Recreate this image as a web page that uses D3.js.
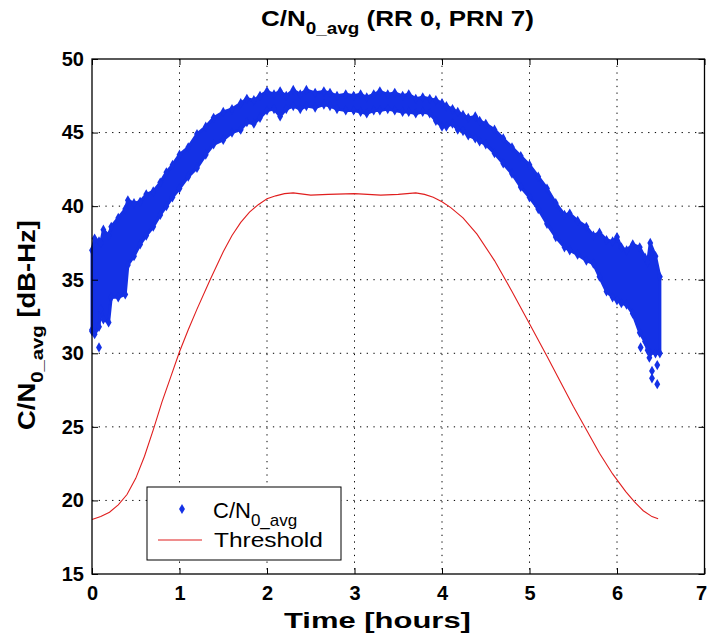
<!DOCTYPE html>
<html>
<head>
<meta charset="utf-8">
<script src="https://cdn.jsdelivr.net/npm/d3@7"></script>
<style>
  body { margin: 0; background: #ffffff; }
  text { font-family: "Liberation Sans", Arial, Helvetica, sans-serif; fill: #000; }
</style>
</head>
<body>
<div id="chart-area"></div>
<script>
// C/N0_avg scatter band + threshold

const WIDTH = 707
const HEIGHT = 636
const PLOT = { LEFT: 92, RIGHT: 704.5, TOP: 59, BOTTOM: 574 }

// blue band: time [h], lower edge, upper edge
const bandTime = [0.00, 0.03, 0.08, 0.10, 0.13, 0.19, 0.22, 0.30, 0.38, 0.41, 0.48, 0.55, 0.62, 0.70, 0.78, 0.85, 0.92,
  1.00, 1.10, 1.20, 1.30, 1.39, 1.50, 1.60, 1.70, 1.77, 1.85, 1.92, 2.00, 2.08, 2.15, 2.22, 2.30, 2.38, 2.45, 2.55,
  2.65, 2.72, 2.80, 2.90, 2.99, 3.07, 3.14, 3.22, 3.29, 3.38, 3.46, 3.55, 3.62, 3.70, 3.78, 3.86, 3.93, 4.00, 4.05,
  4.12, 4.18, 4.24, 4.30, 4.38, 4.43, 4.50, 4.60, 4.70, 4.80, 4.90, 5.00, 5.10, 5.20, 5.30, 5.40, 5.46, 5.55, 5.65,
  5.73, 5.80, 5.88, 5.95, 6.00, 6.05, 6.11, 6.18, 6.26, 6.32, 6.35, 6.38, 6.44, 6.49]
const bandLow = [31.5, 31.3, 31.8, 33.0, 32.3, 32.1, 33.8, 33.8, 34.0, 36.0, 36.6, 37.4, 38.0, 38.6, 39.4, 40.0, 40.6,
  41.2, 42.0, 42.6, 43.5, 44.2, 44.5, 45.0, 45.2, 45.7, 45.6, 46.0, 46.5, 46.6, 46.1, 46.6, 46.8, 46.6, 46.8, 46.7,
  46.9, 46.8, 46.6, 46.5, 46.5, 46.4, 46.3, 46.5, 46.5, 46.6, 46.5, 46.4, 46.4, 46.3, 46.4, 46.3, 45.8, 45.4, 45.4,
  45.6, 45.2, 45.1, 44.8, 44.6, 44.4, 44.2, 43.6, 42.9, 42.2, 41.3, 40.6, 39.8, 38.8, 37.9, 37.2, 37.0, 36.7, 36.3,
  36.1, 35.2, 34.2, 33.8, 33.6, 33.4, 33.3, 32.7, 31.4, 30.8, 30.2, 30.0, 30.0, 30.0]
const bandHigh = [37.0, 37.8, 37.6, 37.5, 38.4, 38.0, 38.6, 39.2, 39.8, 40.4, 40.2, 40.3, 40.8, 41.0, 41.6, 42.3, 42.8,
  43.5, 44.0, 44.9, 45.4, 46.0, 46.4, 46.6, 47.0, 47.3, 47.2, 47.5, 47.8, 47.6, 47.8, 47.5, 47.9, 47.6, 47.9, 47.7,
  47.8, 47.7, 47.5, 47.6, 47.5, 47.6, 47.4, 47.6, 47.8, 47.6, 47.7, 47.5, 47.6, 47.3, 47.4, 47.3, 47.2, 47.0, 46.8,
  46.6, 46.4, 46.2, 46.0, 46.1, 45.8, 45.6, 45.2, 44.6, 44.0, 43.4, 42.8, 42.0, 41.2, 40.2, 39.4, 39.5, 39.0, 38.6,
  38.0, 38.2, 37.7, 37.6, 37.9, 37.2, 37.0, 37.4, 37.2, 36.5, 36.2, 37.5, 36.6, 35.2]

// stray points below the band
const strayTime = [0.00, 0.08, 6.27, 6.37, 6.46, 6.40, 6.40, 6.46]
const strayVal = [31.6, 30.4, 30.4, 29.7, 29.2, 28.8, 28.3, 27.9]

// red threshold line
const thrTime = [0, 0.1, 0.2, 0.3, 0.4, 0.5, 0.6, 0.7, 0.8, 0.9, 1.0, 1.1, 1.2, 1.35, 1.5, 1.6, 1.7, 1.8, 1.9, 2.0,
  2.1, 2.2, 2.3, 2.5, 2.7, 3.0, 3.3, 3.5, 3.7, 3.8, 3.9, 4.0, 4.1, 4.24, 4.4, 4.6, 4.8, 5.0, 5.2, 5.35, 5.5, 5.65,
  5.8, 5.95, 6.1, 6.2, 6.3, 6.4, 6.47]
const thrVal = [18.7, 18.9, 19.2, 19.7, 20.4, 21.5, 23.0, 24.8, 26.7, 28.4, 30.1, 31.6, 33.0, 35.0, 36.9, 38.0, 38.9,
  39.6, 40.1, 40.5, 40.7, 40.85, 40.9, 40.75, 40.8, 40.85, 40.75, 40.8, 40.9, 40.8, 40.6, 40.3, 39.9, 39.2, 38.1,
  36.3, 34.2, 32.0, 29.8, 28.1, 26.4, 24.8, 23.2, 21.8, 20.6, 19.9, 19.3, 18.9, 18.75]

const xTicks = [0, 1, 2, 3, 4, 5, 6, 7]
const yTicks = [15, 20, 25, 30, 35, 40, 45, 50]

const BLUE = "#1431e6"
const RED = "#e01e1e"

const svg = d3.select("#chart-area").append("svg")
    .attr("width", WIDTH)
    .attr("height", HEIGHT)

svg.append("rect").attr("width", WIDTH).attr("height", HEIGHT).attr("fill", "#ffffff")

const x = d3.scaleLinear().domain([0, 7]).range([PLOT.LEFT, PLOT.RIGHT])
const y = d3.scaleLinear().domain([15, 50]).range([PLOT.BOTTOM, PLOT.TOP])

// dotted grid
const grid = svg.append("g").attr("class", "grid")
grid.selectAll(".vgrid")
    .data(xTicks.slice(1, -1))
    .enter().append("line")
    .attr("x1", d => x(d)).attr("x2", d => x(d))
    .attr("y1", PLOT.TOP).attr("y2", PLOT.BOTTOM)
    .attr("stroke", "#000").attr("stroke-width", 1)
    .attr("stroke-dasharray", "1.3,5.4")
grid.selectAll(".hgrid")
    .data(yTicks.slice(1, -1))
    .enter().append("line")
    .attr("y1", d => y(d)).attr("y2", d => y(d))
    .attr("x1", PLOT.LEFT).attr("x2", PLOT.RIGHT)
    .attr("stroke", "#000").attr("stroke-width", 1)
    .attr("stroke-dasharray", "1.3,5.4")

// band of points
const band = bandTime.map((t, i) => ({ t: t, lo: bandLow[i], hi: bandHigh[i] }))
const area = d3.area()
    .x(d => x(d.t))
    .y0(d => y(d.lo))
    .y1(d => y(d.hi))

svg.append("path")
    .datum(band)
    .attr("d", area)
    .attr("fill", BLUE)
    .attr("stroke", BLUE)
    .attr("stroke-width", 3)
    .attr("stroke-linejoin", "round")

const diamond = d3.symbol().type(d3.symbolDiamond).size(30)

const edgePts = band.flatMap(d => [[d.t, d.lo], [d.t, d.hi]])
    .concat(strayTime.map((t, i) => [t, strayVal[i]]))
svg.append("g").selectAll("path")
    .data(edgePts)
    .enter().append("path")
    .attr("d", diamond)
    .attr("transform", d => `translate(${x(d[0])},${y(d[1])})`)
    .attr("fill", BLUE)

// threshold
const line = d3.line()
    .x((d, i) => x(thrTime[i]))
    .y(d => y(d))
svg.append("path")
    .datum(thrVal)
    .attr("d", line)
    .attr("fill", "none")
    .attr("stroke", RED)
    .attr("stroke-width", 1.1)

// axes, ticks inward on all four sides
const axisFont = g => g.selectAll("text")
    .attr("font-size", "20px")
    .attr("font-weight", "bold")
    .attr("fill", "#000")
    .style("font-family", '"Liberation Sans", Arial, sans-serif')

svg.append("g")
    .attr("transform", `translate(0, ${PLOT.BOTTOM})`)
    .call(d3.axisBottom(x).tickValues(xTicks).tickSize(-6).tickSizeOuter(0).tickPadding(12).tickFormat(d3.format("d")))
    .call(axisFont)
    .call(g => g.select(".domain").remove())
    .call(g => g.selectAll(".tick text").filter(d => d === 7).attr("text-anchor", "end").attr("x", 2))

svg.append("g")
    .attr("transform", `translate(${PLOT.LEFT}, 0)`)
    .call(d3.axisLeft(y).tickValues(yTicks).tickSize(-6).tickSizeOuter(0).tickPadding(8).tickFormat(d3.format("d")))
    .call(axisFont)
    .call(g => g.select(".domain").remove())

svg.append("g")
    .attr("transform", `translate(0, ${PLOT.TOP})`)
    .call(d3.axisTop(x).tickValues(xTicks).tickSize(-6).tickSizeOuter(0).tickFormat(""))
    .call(g => g.select(".domain").remove())

svg.append("g")
    .attr("transform", `translate(${PLOT.RIGHT}, 0)`)
    .call(d3.axisRight(y).tickValues(yTicks).tickSize(-6).tickSizeOuter(0).tickFormat(""))
    .call(g => g.select(".domain").remove())

svg.selectAll(".tick line").attr("stroke", "#000")

svg.append("rect")
    .attr("x", PLOT.LEFT).attr("y", PLOT.TOP)
    .attr("width", PLOT.RIGHT - PLOT.LEFT).attr("height", PLOT.BOTTOM - PLOT.TOP)
    .attr("fill", "none").attr("stroke", "#000").attr("stroke-width", 1.3)

// squeeze/stretch a label so it spans `len` px from (px, py), along `angle`
function fitLabel(sel, px, py, len, angle) {
    const bb = sel.node().getBBox()
    const s = len / bb.width
    sel.attr("transform", `translate(${px},${py}) rotate(${angle}) scale(${s},1) translate(${-bb.x},0)`)
}

function cnLabel(parent, size, subSize, subDy, rest) {
    const t = parent.append("text")
        .attr("font-size", size + "px")
        .attr("font-weight", "bold")
    t.append("tspan").text("C/N")
    t.append("tspan").attr("font-size", subSize + "px").attr("dy", subDy).text("0_avg")
    t.append("tspan").attr("dy", -subDy).text(rest)
    return t
}

// title
const title = cnLabel(svg, 22, 16, 8, " (RR 0, PRN 7)")
fitLabel(title, 261, 26, 273, 0)

// x label
const xLabel = svg.append("text")
    .attr("font-size", "23px")
    .attr("font-weight", "bold")
    .text("Time [hours]")
fitLabel(xLabel, 284, 628, 187, 0)

// y label
const yLabel = cnLabel(svg, 23, 17, 8, "  [dB-Hz]")
fitLabel(yLabel, 35, 430, 210, -90)

// legend
const legend = svg.append("g").attr("class", "legend")
legend.append("rect")
    .attr("x", 147).attr("y", 487)
    .attr("width", 194).attr("height", 73)
    .attr("fill", "#fff").attr("stroke", "#000").attr("stroke-width", 1)

legend.append("path")
    .attr("d", d3.symbol().type(d3.symbolDiamond).size(30))
    .attr("transform", "translate(182,509)")
    .attr("fill", BLUE)

const l1 = legend.append("text").attr("x", 213).attr("y", 518).attr("font-size", "22px")
l1.append("tspan").text("C/N")
l1.append("tspan").attr("font-size", "17px").attr("dy", 8).text("0_avg")

legend.append("line")
    .attr("x1", 158).attr("x2", 202)
    .attr("y1", 540).attr("y2", 540)
    .attr("stroke", RED).attr("stroke-width", 1.1)

const l2 = legend.append("text").attr("font-size", "21px").text("Threshold")
fitLabel(l2, 214, 547, 109, 0)
</script>
</body>
</html>
